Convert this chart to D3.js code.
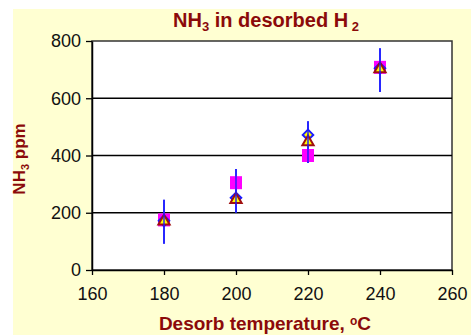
<!DOCTYPE html>
<html>
<head>
<meta charset="utf-8">
<script src="https://cdn.jsdelivr.net/npm/d3@7"></script>
<style>
  body { margin: 0; background: #fff; }
  text { font-family: "Liberation Sans", Arial, sans-serif; }
</style>
</head>
<body>
<script>
// data
var temps = [180, 200, 220, 240];
var squareVals = [175, 305, 400, 708];
var triangleVals = [170, 245, 447, 702];
var diamondVals = [172, 252, 472, 705];
var errLow = [92, 200, 374, 622];
var errHigh = [245, 353, 520, 775];
var xTicks = [160, 180, 200, 220, 240, 260];
var yTicks = [0, 200, 400, 600, 800];

var W = 471, H = 335;
var margin = { top: 41, left: 92, right: 19, bottom: 65 };
var width = W - margin.left - margin.right;
var height = H - margin.top - margin.bottom;
var dark = "#8b0a0a";

var root = d3.select("body").append("svg")
    .attr("width", W)
    .attr("height", H);

// pale yellow backdrop
root.append("rect")
    .attr("x", 13).attr("y", 9)
    .attr("width", W - 13).attr("height", H - 9)
    .attr("fill", "#ffffd2");

var svg = root.append("g")
    .attr("transform", "translate(" + margin.left + "," + margin.top + ")");

var xScale = d3.scaleLinear().domain([160, 260]).range([0, width]);
var yScale = d3.scaleLinear().domain([0, 800]).range([height, 0]);

svg.append("rect")
    .attr("width", width).attr("height", height)
    .attr("fill", "#fff")
    .attr("stroke", "#333")
    .attr("stroke-width", 1.5);

// grid lines
yTicks.slice(1, 4).forEach(function (v) {
    svg.append("line")
        .attr("x1", 0).attr("x2", width)
        .attr("y1", yScale(v)).attr("y2", yScale(v))
        .attr("stroke", "#000").attr("stroke-width", 1.3);
});

var xAxis = d3.axisBottom(xScale).tickValues(xTicks).tickSize(5).tickSizeOuter(0).tickPadding(12);
var yAxis = d3.axisLeft(yScale).tickValues(yTicks).tickSize(6).tickSizeOuter(0).tickPadding(5);

var gx = svg.append("g")
    .attr("transform", "translate(0," + height + ")")
    .call(xAxis);
var gy = svg.append("g").call(yAxis);

[gx, gy].forEach(function (g) {
    g.select(".domain").attr("stroke", "#000").attr("stroke-width", 1.5);
    g.selectAll(".tick line").attr("stroke", "#000").attr("stroke-width", 1.3);
    g.selectAll(".tick text")
        .attr("fill", "#111")
        .style("font-size", "18px")
        .style("font-family", "Liberation Sans, Arial, sans-serif");
});

// error bars
svg.selectAll(".err").data(temps).enter().append("line")
    .attr("x1", function (d) { return xScale(d); })
    .attr("x2", function (d) { return xScale(d); })
    .attr("y1", function (d, i) { return yScale(errLow[i]); })
    .attr("y2", function (d, i) { return yScale(errHigh[i]); })
    .attr("stroke", "#1a1aff").attr("stroke-width", 1.6);

// magenta squares
svg.selectAll(".sq").data(temps).enter().append("rect")
    .attr("x", function (d) { return xScale(d) - 6; })
    .attr("y", function (d, i) { return yScale(squareVals[i]) - 6.5; })
    .attr("width", 12).attr("height", 13)
    .attr("fill", "#ff00ff");

// diamonds
var diamond = d3.symbol().type(d3.symbolDiamond2).size(70);
svg.selectAll(".dm").data(temps).enter().append("path")
    .attr("d", diamond)
    .attr("transform", function (d, i) { return "translate(" + xScale(d) + "," + yScale(diamondVals[i]) + ")"; })
    .attr("fill", "#ffff00")
    .attr("stroke", "#1a1aff").attr("stroke-width", 2);

// triangles
var tri = d3.symbol().type(d3.symbolTriangle).size(55);
svg.selectAll(".tr").data(temps).enter().append("path")
    .attr("d", tri)
    .attr("transform", function (d, i) { return "translate(" + xScale(d) + "," + yScale(triangleVals[i]) + ")"; })
    .attr("fill", "#ffff00")
    .attr("stroke", "#a01010").attr("stroke-width", 2);

// error bars drawn again on top so they cross the markers
svg.selectAll(".err2").data(temps).enter().append("line")
    .attr("x1", function (d) { return xScale(d); })
    .attr("x2", function (d) { return xScale(d); })
    .attr("y1", function (d, i) { return yScale(errLow[i]); })
    .attr("y2", function (d, i) { return yScale(errHigh[i]); })
    .attr("stroke", "#1a1aff").attr("stroke-width", 1.4);

// title
var title = root.append("text")
    .attr("x", 266).attr("y", 27)
    .attr("text-anchor", "middle")
    .attr("fill", dark)
    .style("font-size", "20px").style("font-weight", "bold");
title.append("tspan").text("NH");
title.append("tspan").attr("dy", 4).style("font-size", "13px").text("3");
title.append("tspan").attr("dy", -4).text(" in desorbed H");
title.append("tspan").attr("dy", 4).style("font-size", "13px").text(" 2");

// y label
var ylab = root.append("text")
    .attr("transform", "translate(25,159) rotate(-90)")
    .attr("text-anchor", "middle")
    .attr("fill", dark)
    .style("font-size", "17px").style("font-weight", "bold");
ylab.append("tspan").text("NH");
ylab.append("tspan").attr("dy", 4).style("font-size", "11px").text("3");
ylab.append("tspan").attr("dy", -4).text(" ppm");

// x label
var xlab = root.append("text")
    .attr("x", 265).attr("y", 330)
    .attr("text-anchor", "middle")
    .attr("fill", dark)
    .style("font-size", "19px").style("font-weight", "bold");
xlab.append("tspan").text("Desorb temperature, ");
xlab.append("tspan").attr("dy", -5).style("font-size", "12px").text("o");
xlab.append("tspan").attr("dy", 5).text("C");
</script>
</body>
</html>
